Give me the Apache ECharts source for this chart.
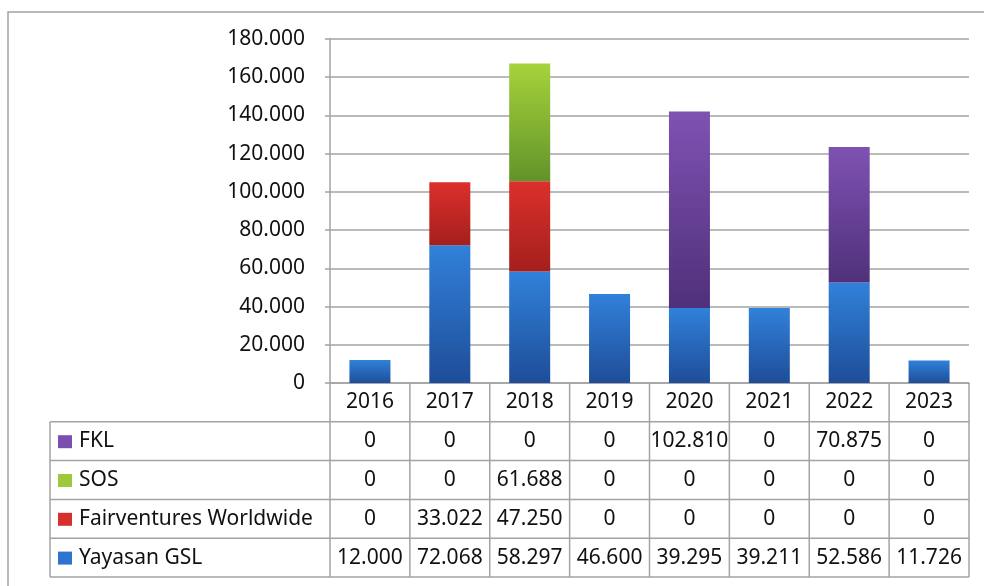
<!DOCTYPE html>
<html>
<head>
<meta charset="utf-8">
<script src="https://cdn.jsdelivr.net/npm/echarts@6/dist/echarts.min.js"></script>
<style>
  html, body { margin: 0; padding: 0; background: #fff; }
  #chart { width: 984px; height: 586px; }
</style>
</head>
<body>
<div id="chart"></div>
<script>
// data (values in the source use "." as thousands separator)
const years = ["2016", "2017", "2018", "2019", "2020", "2021", "2022", "2023"];
const yayasanGSL = [12000, 72068, 58297, 46600, 39295, 39211, 52586, 11726];
const fairventures = [0, 33022, 47250, 0, 0, 0, 0, 0];
const sos = [0, 0, 61688, 0, 0, 0, 0, 0];
const fkl = [0, 0, 0, 0, 102810, 0, 70875, 0];
const yMax = 180000;
const yStep = 20000;

const FONT = "Noto Sans";
const LINE = "#a3a3a3";

const fmt = (v) => (v === 0 ? "0" : String(v).replace(/\B(?=(\d{3})+(?!\d))/g, "."));

const grad = (top, bottom) =>
  new echarts.graphic.LinearGradient(0, 0, 0, 1, [
    { offset: 0, color: top },
    { offset: 1, color: bottom },
  ]);

// table rows top -> bottom, like in the picture
const rows = [
  { name: "FKL", values: fkl, key: "#7a4fb0", fill: grad("#7e52b2", "#50307a") },
  { name: "SOS", values: sos, key: "#9cc93a", fill: grad("#a6d33b", "#62932a") },
  { name: "Fairventures Worldwide", values: fairventures, key: "#d5302c", fill: grad("#dc302c", "#a41f1c") },
  { name: "Yayasan GSL", values: yayasanGSL, key: "#2e74cf", fill: grad("#3181da", "#1e4d98") },
];

const chart = echarts.init(document.getElementById("chart"));

// stacked from the bottom: Yayasan GSL first
const series = rows.slice().reverse().map((r) => ({
  name: r.name,
  type: "bar",
  stack: "total",
  barWidth: 41,
  data: r.values,
  itemStyle: { color: r.fill },
}));

chart.setOption({
  animation: false,
  grid: { left: 330, right: 15, top: 39, bottom: 203 },
  xAxis: {
    type: "category",
    data: years,
    axisLine: { lineStyle: { color: LINE, width: 1.5 } },
    axisTick: { show: false },
    axisLabel: {
      margin: 19,
      verticalAlign: "middle",
      fontFamily: FONT,
      fontSize: 21,
      color: "#111",
    },
  },
  yAxis: {
    type: "value",
    min: 0,
    max: yMax,
    interval: yStep,
    axisLine: { show: true, lineStyle: { color: LINE, width: 1.5 } },
    axisTick: { show: true, length: 5, lineStyle: { color: LINE, width: 1.5 } },
    splitLine: { lineStyle: { color: LINE, width: 1.5 } },
    axisLabel: {
      margin: 25,
      formatter: fmt,
      fontFamily: FONT,
      fontSize: 21,
      color: "#111",
    },
  },
  series: series,
});

// data table under the plot, placed from the category axis
const xs = years.map((y) => chart.convertToPixel({ xAxisIndex: 0 }, y));
const colW = xs[1] - xs[0];
const tLeft = xs[0] - colW / 2;
const tRight = xs[xs.length - 1] + colW / 2;
const axisY = chart.convertToPixel({ yAxisIndex: 0 }, 0);
const rowH = 38.8;
const keyLeft = 50;

const g = [];
const line = (x1, y1, x2, y2) =>
  g.push({
    type: "line",
    silent: true,
    shape: { x1, y1, x2, y2 },
    style: { stroke: LINE, lineWidth: 1.5 },
  });

// outer chart border (runs off the right and bottom edge)
g.push({
  type: "rect",
  silent: true,
  shape: { x: 8, y: 12, width: 1000, height: 600 },
  style: { fill: "none", stroke: LINE, lineWidth: 1.5 },
});

const bottomY = axisY + rowH * (rows.length + 1);
// column lines
for (let i = 0; i <= years.length; i++) {
  const x = tLeft + i * colW;
  line(x, axisY, x, bottomY);
}
line(keyLeft, axisY + rowH, keyLeft, bottomY);
// row lines
for (let r = 1; r <= rows.length + 1; r++) {
  const y = axisY + r * rowH;
  line(keyLeft, y, tRight, y);
}

rows.forEach((r, ri) => {
  const cy = axisY + rowH * (ri + 1.5);
  g.push({
    type: "rect",
    silent: true,
    shape: { x: 58, y: cy - 6, width: 14, height: 13 },
    style: { fill: r.key },
  });
  g.push({
    type: "text",
    silent: true,
    x: 79,
    y: cy,
    style: { text: r.name, font: "21px '" + FONT + "'", fill: "#111", align: "left", verticalAlign: "middle" },
  });
  r.values.forEach((v, ci) => {
    g.push({
      type: "text",
      silent: true,
      x: xs[ci],
      y: cy,
      style: { text: fmt(v), font: "21px '" + FONT + "'", fill: "#111", align: "center", verticalAlign: "middle" },
    });
  });
});

chart.setOption({ graphic: g });
</script>
</body>
</html>
